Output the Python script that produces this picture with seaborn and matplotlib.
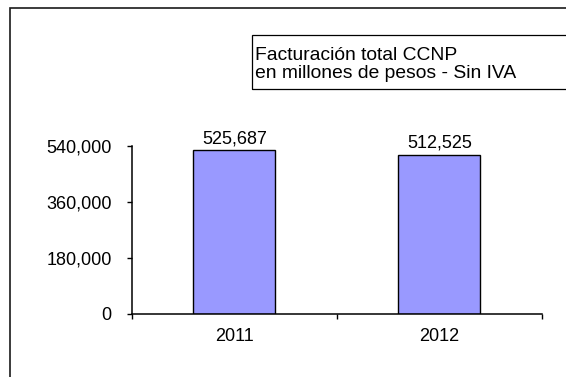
import matplotlib
matplotlib.use("Agg")
import matplotlib.pyplot as plt
from matplotlib.patches import Rectangle
import pandas as pd
import seaborn as sns

# Chart data
years = ["2011", "2012"]
facturacion = [525687, 512525]
y_ticks = [0, 180000, 360000, 540000]
title_lines = ["Facturación total CCNP", "en millones de pesos - Sin IVA"]

sns.set_theme(style="white")
plt.rcParams["font.family"] = ["Liberation Sans", "DejaVu Sans"]

W, H = 566, 377
fig = plt.figure(figsize=(W / 100, H / 100), dpi=100)
fig.patch.set_facecolor("white")

# Outer chart frame (open at right and bottom)
fig.add_artist(Rectangle((10 / W, -0.2), 1.5, 1.2 - 8 / H, transform=fig.transFigure,
                         fill=False, edgecolor="#1a1a1a", linewidth=1.2))

# Title box
box_top, box_bot = 34.7, 89
fig.add_artist(Rectangle((252 / W, 1 - box_bot / H), 1.0, (box_bot - box_top) / H,
                         transform=fig.transFigure, fill=False,
                         edgecolor="black", linewidth=0.9))
for line, base in zip(title_lines, [60.0, 78.0]):
    fig.text(255 / W, 1 - base / H, line, fontsize=13.9, va="baseline",
             ha="left", color="black")

# Plot area
ax_left, ax_right = 131.7, 542.0
ax_top, ax_bottom = 146.0, 313.5
ax = fig.add_axes([ax_left / W, 1 - ax_bottom / H,
                   (ax_right - ax_left) / W, (ax_bottom - ax_top) / H])
ax.set_facecolor("none")

df = pd.DataFrame({"anio": years, "facturacion": facturacion})
sns.barplot(data=df, x="anio", y="facturacion", color="#9999FF", saturation=1,
            width=0.4, edgecolor="black", linewidth=1.0, ax=ax)

ax.set_xlim(-0.5, 1.5)
ax.set_ylim(0, 540000)
ax.set_yticks(y_ticks, labels=[f"{v:,}" for v in y_ticks])
ax.set_xlabel("")
ax.set_ylabel("")

for side in ["top", "right"]:
    ax.spines[side].set_visible(False)
for side in ["left", "bottom"]:
    ax.spines[side].set_color("black")
    ax.spines[side].set_linewidth(1.1)

# Category boundary ticks on the x axis, labels centred without ticks
ax.set_xticks([-0.5, 0.5, 1.5], minor=True)
ax.tick_params(axis="x", which="minor", length=3.5, width=1.0, color="black",
               direction="out", bottom=True)
ax.tick_params(axis="x", which="major", length=0, pad=10.3, labelsize=13.0,
               labelcolor="black")
ax.tick_params(axis="y", which="major", length=3.8, width=1.0, color="black",
               direction="out", left=True, pad=10.5, labelsize=13.0,
               labelcolor="black")

ax.bar_label(ax.containers[0], labels=[f"{v:,}" for v in facturacion],
             padding=2.3, fontsize=13.0, color="black")

fig.savefig("out.png", dpi=100, facecolor="white")
